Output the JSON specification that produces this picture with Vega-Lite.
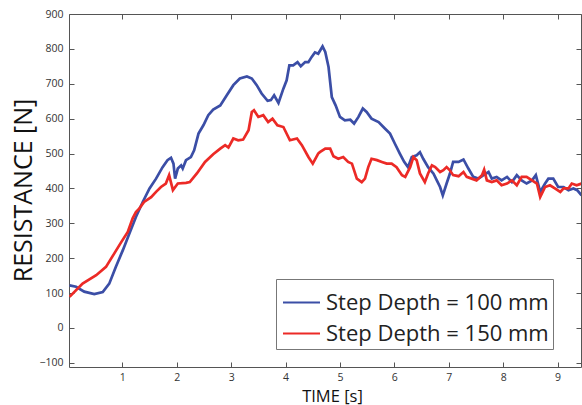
{
  "$schema": "https://vega.github.io/schema/vega-lite/v6.json",
  "width": 512,
  "height": 353,
  "autosize": "none",
  "padding": {"left": 69, "top": 14, "right": 1, "bottom": 38},
  "background": "white",
  "config": {"view": {"stroke": null}},
  "datasets": {
    "curves": [
      {"t":0.03,"v":122,"s":"Step Depth = 100 mm"},
      {"t":0.15,"v":118,"s":"Step Depth = 100 mm"},
      {"t":0.30,"v":104,"s":"Step Depth = 100 mm"},
      {"t":0.485,"v":97,"s":"Step Depth = 100 mm"},
      {"t":0.64,"v":103,"s":"Step Depth = 100 mm"},
      {"t":0.76,"v":127,"s":"Step Depth = 100 mm"},
      {"t":0.88,"v":175,"s":"Step Depth = 100 mm"},
      {"t":1.01,"v":223,"s":"Step Depth = 100 mm"},
      {"t":1.13,"v":271,"s":"Step Depth = 100 mm"},
      {"t":1.25,"v":318,"s":"Step Depth = 100 mm"},
      {"t":1.375,"v":361,"s":"Step Depth = 100 mm"},
      {"t":1.50,"v":400,"s":"Step Depth = 100 mm"},
      {"t":1.62,"v":428,"s":"Step Depth = 100 mm"},
      {"t":1.74,"v":461,"s":"Step Depth = 100 mm"},
      {"t":1.83,"v":481,"s":"Step Depth = 100 mm"},
      {"t":1.895,"v":488,"s":"Step Depth = 100 mm"},
      {"t":1.94,"v":471,"s":"Step Depth = 100 mm"},
      {"t":1.97,"v":428,"s":"Step Depth = 100 mm"},
      {"t":2.02,"v":457,"s":"Step Depth = 100 mm"},
      {"t":2.08,"v":466,"s":"Step Depth = 100 mm"},
      {"t":2.11,"v":457,"s":"Step Depth = 100 mm"},
      {"t":2.17,"v":481,"s":"Step Depth = 100 mm"},
      {"t":2.26,"v":490,"s":"Step Depth = 100 mm"},
      {"t":2.32,"v":509,"s":"Step Depth = 100 mm"},
      {"t":2.40,"v":557,"s":"Step Depth = 100 mm"},
      {"t":2.49,"v":581,"s":"Step Depth = 100 mm"},
      {"t":2.58,"v":610,"s":"Step Depth = 100 mm"},
      {"t":2.67,"v":626,"s":"Step Depth = 100 mm"},
      {"t":2.80,"v":638,"s":"Step Depth = 100 mm"},
      {"t":2.92,"v":667,"s":"Step Depth = 100 mm"},
      {"t":3.04,"v":696,"s":"Step Depth = 100 mm"},
      {"t":3.16,"v":715,"s":"Step Depth = 100 mm"},
      {"t":3.29,"v":721,"s":"Step Depth = 100 mm"},
      {"t":3.38,"v":715,"s":"Step Depth = 100 mm"},
      {"t":3.47,"v":696,"s":"Step Depth = 100 mm"},
      {"t":3.56,"v":672,"s":"Step Depth = 100 mm"},
      {"t":3.67,"v":651,"s":"Step Depth = 100 mm"},
      {"t":3.73,"v":653,"s":"Step Depth = 100 mm"},
      {"t":3.79,"v":667,"s":"Step Depth = 100 mm"},
      {"t":3.87,"v":645,"s":"Step Depth = 100 mm"},
      {"t":3.96,"v":686,"s":"Step Depth = 100 mm"},
      {"t":4.02,"v":710,"s":"Step Depth = 100 mm"},
      {"t":4.07,"v":753,"s":"Step Depth = 100 mm"},
      {"t":4.14,"v":753,"s":"Step Depth = 100 mm"},
      {"t":4.22,"v":762,"s":"Step Depth = 100 mm"},
      {"t":4.28,"v":750,"s":"Step Depth = 100 mm"},
      {"t":4.36,"v":762,"s":"Step Depth = 100 mm"},
      {"t":4.42,"v":762,"s":"Step Depth = 100 mm"},
      {"t":4.48,"v":777,"s":"Step Depth = 100 mm"},
      {"t":4.54,"v":790,"s":"Step Depth = 100 mm"},
      {"t":4.60,"v":786,"s":"Step Depth = 100 mm"},
      {"t":4.68,"v":807,"s":"Step Depth = 100 mm"},
      {"t":4.73,"v":791,"s":"Step Depth = 100 mm"},
      {"t":4.79,"v":748,"s":"Step Depth = 100 mm"},
      {"t":4.85,"v":662,"s":"Step Depth = 100 mm"},
      {"t":4.92,"v":638,"s":"Step Depth = 100 mm"},
      {"t":5.00,"v":605,"s":"Step Depth = 100 mm"},
      {"t":5.09,"v":595,"s":"Step Depth = 100 mm"},
      {"t":5.19,"v":597,"s":"Step Depth = 100 mm"},
      {"t":5.26,"v":586,"s":"Step Depth = 100 mm"},
      {"t":5.34,"v":605,"s":"Step Depth = 100 mm"},
      {"t":5.42,"v":629,"s":"Step Depth = 100 mm"},
      {"t":5.49,"v":619,"s":"Step Depth = 100 mm"},
      {"t":5.58,"v":600,"s":"Step Depth = 100 mm"},
      {"t":5.71,"v":590,"s":"Step Depth = 100 mm"},
      {"t":5.83,"v":571,"s":"Step Depth = 100 mm"},
      {"t":5.92,"v":557,"s":"Step Depth = 100 mm"},
      {"t":6.01,"v":528,"s":"Step Depth = 100 mm"},
      {"t":6.10,"v":500,"s":"Step Depth = 100 mm"},
      {"t":6.18,"v":476,"s":"Step Depth = 100 mm"},
      {"t":6.25,"v":461,"s":"Step Depth = 100 mm"},
      {"t":6.32,"v":490,"s":"Step Depth = 100 mm"},
      {"t":6.41,"v":495,"s":"Step Depth = 100 mm"},
      {"t":6.47,"v":504,"s":"Step Depth = 100 mm"},
      {"t":6.53,"v":485,"s":"Step Depth = 100 mm"},
      {"t":6.62,"v":461,"s":"Step Depth = 100 mm"},
      {"t":6.72,"v":442,"s":"Step Depth = 100 mm"},
      {"t":6.78,"v":423,"s":"Step Depth = 100 mm"},
      {"t":6.84,"v":404,"s":"Step Depth = 100 mm"},
      {"t":6.89,"v":380,"s":"Step Depth = 100 mm"},
      {"t":6.96,"v":414,"s":"Step Depth = 100 mm"},
      {"t":7.02,"v":442,"s":"Step Depth = 100 mm"},
      {"t":7.08,"v":476,"s":"Step Depth = 100 mm"},
      {"t":7.18,"v":476,"s":"Step Depth = 100 mm"},
      {"t":7.27,"v":483,"s":"Step Depth = 100 mm"},
      {"t":7.36,"v":457,"s":"Step Depth = 100 mm"},
      {"t":7.45,"v":433,"s":"Step Depth = 100 mm"},
      {"t":7.54,"v":428,"s":"Step Depth = 100 mm"},
      {"t":7.64,"v":438,"s":"Step Depth = 100 mm"},
      {"t":7.73,"v":447,"s":"Step Depth = 100 mm"},
      {"t":7.79,"v":428,"s":"Step Depth = 100 mm"},
      {"t":7.88,"v":433,"s":"Step Depth = 100 mm"},
      {"t":7.97,"v":423,"s":"Step Depth = 100 mm"},
      {"t":8.07,"v":433,"s":"Step Depth = 100 mm"},
      {"t":8.16,"v":418,"s":"Step Depth = 100 mm"},
      {"t":8.25,"v":438,"s":"Step Depth = 100 mm"},
      {"t":8.34,"v":423,"s":"Step Depth = 100 mm"},
      {"t":8.43,"v":414,"s":"Step Depth = 100 mm"},
      {"t":8.53,"v":423,"s":"Step Depth = 100 mm"},
      {"t":8.60,"v":438,"s":"Step Depth = 100 mm"},
      {"t":8.68,"v":390,"s":"Step Depth = 100 mm"},
      {"t":8.77,"v":414,"s":"Step Depth = 100 mm"},
      {"t":8.83,"v":428,"s":"Step Depth = 100 mm"},
      {"t":8.92,"v":428,"s":"Step Depth = 100 mm"},
      {"t":9.01,"v":404,"s":"Step Depth = 100 mm"},
      {"t":9.11,"v":404,"s":"Step Depth = 100 mm"},
      {"t":9.20,"v":395,"s":"Step Depth = 100 mm"},
      {"t":9.29,"v":400,"s":"Step Depth = 100 mm"},
      {"t":9.36,"v":395,"s":"Step Depth = 100 mm"},
      {"t":9.44,"v":380,"s":"Step Depth = 100 mm"},
      {"t":0.03,"v":89,"s":"Step Depth = 150 mm"},
      {"t":0.27,"v":127,"s":"Step Depth = 150 mm"},
      {"t":0.52,"v":151,"s":"Step Depth = 150 mm"},
      {"t":0.70,"v":175,"s":"Step Depth = 150 mm"},
      {"t":0.85,"v":213,"s":"Step Depth = 150 mm"},
      {"t":0.98,"v":246,"s":"Step Depth = 150 mm"},
      {"t":1.10,"v":275,"s":"Step Depth = 150 mm"},
      {"t":1.19,"v":314,"s":"Step Depth = 150 mm"},
      {"t":1.25,"v":332,"s":"Step Depth = 150 mm"},
      {"t":1.31,"v":342,"s":"Step Depth = 150 mm"},
      {"t":1.40,"v":361,"s":"Step Depth = 150 mm"},
      {"t":1.53,"v":375,"s":"Step Depth = 150 mm"},
      {"t":1.62,"v":390,"s":"Step Depth = 150 mm"},
      {"t":1.71,"v":404,"s":"Step Depth = 150 mm"},
      {"t":1.80,"v":414,"s":"Step Depth = 150 mm"},
      {"t":1.86,"v":438,"s":"Step Depth = 150 mm"},
      {"t":1.93,"v":395,"s":"Step Depth = 150 mm"},
      {"t":2.02,"v":414,"s":"Step Depth = 150 mm"},
      {"t":2.17,"v":416,"s":"Step Depth = 150 mm"},
      {"t":2.24,"v":418,"s":"Step Depth = 150 mm"},
      {"t":2.37,"v":443,"s":"Step Depth = 150 mm"},
      {"t":2.52,"v":476,"s":"Step Depth = 150 mm"},
      {"t":2.67,"v":498,"s":"Step Depth = 150 mm"},
      {"t":2.80,"v":514,"s":"Step Depth = 150 mm"},
      {"t":2.89,"v":524,"s":"Step Depth = 150 mm"},
      {"t":2.95,"v":517,"s":"Step Depth = 150 mm"},
      {"t":3.04,"v":543,"s":"Step Depth = 150 mm"},
      {"t":3.13,"v":538,"s":"Step Depth = 150 mm"},
      {"t":3.22,"v":540,"s":"Step Depth = 150 mm"},
      {"t":3.32,"v":567,"s":"Step Depth = 150 mm"},
      {"t":3.38,"v":619,"s":"Step Depth = 150 mm"},
      {"t":3.42,"v":624,"s":"Step Depth = 150 mm"},
      {"t":3.50,"v":605,"s":"Step Depth = 150 mm"},
      {"t":3.59,"v":610,"s":"Step Depth = 150 mm"},
      {"t":3.68,"v":590,"s":"Step Depth = 150 mm"},
      {"t":3.76,"v":600,"s":"Step Depth = 150 mm"},
      {"t":3.85,"v":581,"s":"Step Depth = 150 mm"},
      {"t":3.96,"v":576,"s":"Step Depth = 150 mm"},
      {"t":4.08,"v":538,"s":"Step Depth = 150 mm"},
      {"t":4.21,"v":543,"s":"Step Depth = 150 mm"},
      {"t":4.30,"v":524,"s":"Step Depth = 150 mm"},
      {"t":4.42,"v":490,"s":"Step Depth = 150 mm"},
      {"t":4.50,"v":471,"s":"Step Depth = 150 mm"},
      {"t":4.60,"v":500,"s":"Step Depth = 150 mm"},
      {"t":4.63,"v":504,"s":"Step Depth = 150 mm"},
      {"t":4.73,"v":514,"s":"Step Depth = 150 mm"},
      {"t":4.82,"v":514,"s":"Step Depth = 150 mm"},
      {"t":4.88,"v":492,"s":"Step Depth = 150 mm"},
      {"t":4.97,"v":485,"s":"Step Depth = 150 mm"},
      {"t":5.06,"v":490,"s":"Step Depth = 150 mm"},
      {"t":5.15,"v":476,"s":"Step Depth = 150 mm"},
      {"t":5.22,"v":471,"s":"Step Depth = 150 mm"},
      {"t":5.31,"v":428,"s":"Step Depth = 150 mm"},
      {"t":5.40,"v":418,"s":"Step Depth = 150 mm"},
      {"t":5.46,"v":428,"s":"Step Depth = 150 mm"},
      {"t":5.52,"v":461,"s":"Step Depth = 150 mm"},
      {"t":5.58,"v":485,"s":"Step Depth = 150 mm"},
      {"t":5.68,"v":481,"s":"Step Depth = 150 mm"},
      {"t":5.77,"v":476,"s":"Step Depth = 150 mm"},
      {"t":5.86,"v":471,"s":"Step Depth = 150 mm"},
      {"t":5.95,"v":471,"s":"Step Depth = 150 mm"},
      {"t":6.04,"v":461,"s":"Step Depth = 150 mm"},
      {"t":6.14,"v":438,"s":"Step Depth = 150 mm"},
      {"t":6.20,"v":433,"s":"Step Depth = 150 mm"},
      {"t":6.29,"v":461,"s":"Step Depth = 150 mm"},
      {"t":6.35,"v":490,"s":"Step Depth = 150 mm"},
      {"t":6.41,"v":481,"s":"Step Depth = 150 mm"},
      {"t":6.47,"v":443,"s":"Step Depth = 150 mm"},
      {"t":6.56,"v":418,"s":"Step Depth = 150 mm"},
      {"t":6.62,"v":443,"s":"Step Depth = 150 mm"},
      {"t":6.69,"v":466,"s":"Step Depth = 150 mm"},
      {"t":6.75,"v":461,"s":"Step Depth = 150 mm"},
      {"t":6.84,"v":447,"s":"Step Depth = 150 mm"},
      {"t":6.90,"v":452,"s":"Step Depth = 150 mm"},
      {"t":6.96,"v":461,"s":"Step Depth = 150 mm"},
      {"t":7.02,"v":452,"s":"Step Depth = 150 mm"},
      {"t":7.08,"v":438,"s":"Step Depth = 150 mm"},
      {"t":7.18,"v":435,"s":"Step Depth = 150 mm"},
      {"t":7.27,"v":447,"s":"Step Depth = 150 mm"},
      {"t":7.33,"v":433,"s":"Step Depth = 150 mm"},
      {"t":7.42,"v":428,"s":"Step Depth = 150 mm"},
      {"t":7.51,"v":423,"s":"Step Depth = 150 mm"},
      {"t":7.61,"v":438,"s":"Step Depth = 150 mm"},
      {"t":7.65,"v":454,"s":"Step Depth = 150 mm"},
      {"t":7.70,"v":423,"s":"Step Depth = 150 mm"},
      {"t":7.79,"v":418,"s":"Step Depth = 150 mm"},
      {"t":7.88,"v":423,"s":"Step Depth = 150 mm"},
      {"t":7.97,"v":409,"s":"Step Depth = 150 mm"},
      {"t":8.07,"v":414,"s":"Step Depth = 150 mm"},
      {"t":8.16,"v":423,"s":"Step Depth = 150 mm"},
      {"t":8.25,"v":409,"s":"Step Depth = 150 mm"},
      {"t":8.34,"v":433,"s":"Step Depth = 150 mm"},
      {"t":8.43,"v":433,"s":"Step Depth = 150 mm"},
      {"t":8.53,"v":423,"s":"Step Depth = 150 mm"},
      {"t":8.62,"v":414,"s":"Step Depth = 150 mm"},
      {"t":8.68,"v":375,"s":"Step Depth = 150 mm"},
      {"t":8.77,"v":404,"s":"Step Depth = 150 mm"},
      {"t":8.86,"v":409,"s":"Step Depth = 150 mm"},
      {"t":8.95,"v":400,"s":"Step Depth = 150 mm"},
      {"t":9.05,"v":390,"s":"Step Depth = 150 mm"},
      {"t":9.11,"v":400,"s":"Step Depth = 150 mm"},
      {"t":9.20,"v":400,"s":"Step Depth = 150 mm"},
      {"t":9.26,"v":414,"s":"Step Depth = 150 mm"},
      {"t":9.35,"v":409,"s":"Step Depth = 150 mm"},
      {"t":9.44,"v":414,"s":"Step Depth = 150 mm"}
    ]
  },
  "data": {"name": "curves"},
  "resolve": {"scale": {"x": "independent", "y": "independent"}, "axis": {"x": "independent", "y": "independent"}},
  "layer": [
    {
      "mark": {"type": "line", "strokeOpacity": 0, "clip": true},
      "encoding": {
        "x": {"field": "t", "type": "quantitative",
              "scale": {"domain": [0.02, 9.43], "nice": false, "zero": false},
              "axis": {"orient": "top", "values": [1,2,3,4,5,6,7,8,9], "labels": false, "title": null, "grid": false,
                       "tickSize": -5, "domainColor": "#555", "tickColor": "#555"}},
        "y": {"field": "v", "type": "quantitative",
              "scale": {"domain": [-112, 900], "nice": false, "zero": false},
              "axis": {"orient": "right", "values": [-100,0,100,200,300,400,500,600,700,800,900], "labels": false, "title": null, "grid": false,
                       "tickSize": -5, "domainColor": "#555", "tickColor": "#555"}},
        "detail": {"field": "s"}
      }
    },
    {
      "mark": {"type": "line", "strokeWidth": 2.7, "clip": true},
      "encoding": {
        "x": {"field": "t", "type": "quantitative",
              "scale": {"domain": [0.02, 9.43], "nice": false, "zero": false},
              "axis": {"orient": "bottom", "values": [1,2,3,4,5,6,7,8,9], "grid": false, "title": "TIME [s]",
                       "tickSize": -5, "labelPadding": 10, "domainColor": "#555", "tickColor": "#555",
                       "labelFont": "Open Sans", "labelFontSize": 10.5, "labelColor": "#333",
                       "titleFont": "Open Sans", "titleFontSize": 16.5, "titleFontWeight": "normal", "titleColor": "#111",
                       "titleX": 263, "titleY": 34, "titleBaseline": "alphabetic"}},
        "y": {"field": "v", "type": "quantitative",
              "scale": {"domain": [-112, 900], "nice": false, "zero": false},
              "axis": {"orient": "left", "values": [-100,0,100,200,300,400,500,600,700,800,900], "grid": false, "title": "RESISTANCE [N]",
                       "tickSize": -5, "labelPadding": 11, "domainColor": "#555", "tickColor": "#555",
                       "labelFont": "Open Sans", "labelFontSize": 10.5, "labelColor": "#333",
                       "titleFont": "Open Sans", "titleFontSize": 25, "titleFontWeight": "normal", "titleColor": "#111",
                       "titleX": -38, "titleY": 176, "titleBaseline": "alphabetic", "titleAngle": -90}},
        "color": {"field": "s", "type": "nominal",
                  "scale": {"domain": ["Step Depth = 100 mm", "Step Depth = 150 mm"], "range": ["#3b4ea6", "#ec2a26"]},
                  "legend": {"title": null, "orient": "none", "legendX": 207, "legendY": 265,
                             "symbolType": "stroke", "symbolSize": 1369, "symbolStrokeWidth": 2, "symbolOffset": 2,
                             "labelFont": "Open Sans", "labelFontSize": 22, "labelColor": "#222", "labelOffset": 5,
                             "rowPadding": -1, "padding": 4, "strokeColor": "#777", "fillColor": "white",
                             "labelLimit": 400}}
      }
    }
  ]
}
